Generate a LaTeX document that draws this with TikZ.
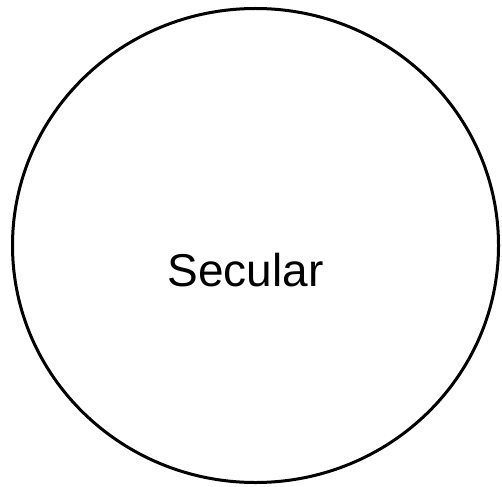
\documentclass[tikz,border=0pt]{standalone}
\usepackage{fontspec}
\setmainfont{Liberation Sans}
\usetikzlibrary{shapes.geometric}

\begin{document}
\begin{tikzpicture}[
    x=1pt, y=-1pt,
    circ/.style={
        ellipse,
        draw=black,
        line width=3pt,
        minimum width=486pt,
        minimum height=474pt,
        inner sep=0pt
    },
    label/.style={
        font=\fontsize{46}{55}\selectfont,
        anchor=base,
        inner sep=0pt
    }
]

\useasboundingbox (0,0) rectangle (502,486);

% Circle
\node[circ] (secular) at (255.5,245.5) {};

% Text
\node[label] (secular_text) at (245.5,286) {Secular};

\end{tikzpicture}
\end{document}
